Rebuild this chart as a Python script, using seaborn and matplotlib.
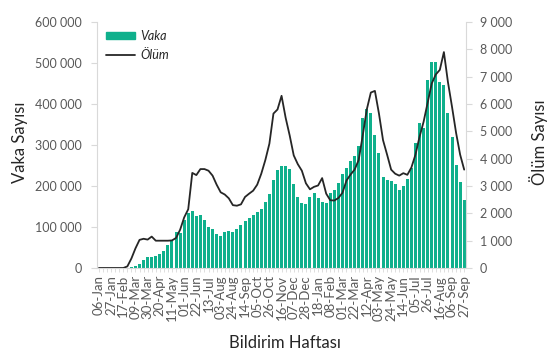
import matplotlib
matplotlib.use("Agg")
import matplotlib.pyplot as plt
import seaborn as sns
import pandas as pd
import numpy as np
from matplotlib.patches import Patch
from matplotlib.lines import Line2D
from matplotlib.ticker import FuncFormatter

sns.set_style("white")
plt.rcParams['font.family'] = ['Lato', 'DejaVu Sans']

# weekly categories, 06-Jan-2020 .. 27-Sep-2021
weeks = pd.date_range("2020-01-06", "2021-09-27", freq="7D").strftime("%d-%b").tolist()

# weekly cases (Vaka)
vaka = [0, 0, 0, 0, 0, 0, 0, 300, 1500, 5000,
        9800, 19500, 26000, 26000, 29000, 34000, 41000, 55000, 68000, 88000,
        86000, 117000, 135000, 138000, 127000, 129000, 117000, 101000, 95000, 84000,
        78000, 87000, 90000, 88000, 95000, 105000, 114000, 123000, 129000, 137000,
        145000, 161000, 180000, 215000, 238000, 250000, 248000, 241000, 204000, 174000,
        158000, 156000, 173000, 182000, 171000, 162000, 158000, 182000, 190000, 207000,
        230000, 245000, 261000, 272000, 298000, 366000, 388000, 378000, 325000, 280000,
        222000, 215000, 213000, 205000, 191000, 201000, 218000, 245000, 306000, 354000,
        341000, 458000, 502000, 502000, 453000, 447000, 378000, 319000, 251000, 209000,
        166000]

# weekly deaths (Ölüm)
olum = [0, 0, 0, 0, 0, 0, 0, 60, 350, 720,
        1030, 1070, 1040, 1150, 1000, 1000, 1000, 1000, 1010, 1100,
        1400, 1850, 2150, 3480, 3400, 3620, 3620, 3560, 3380, 3050,
        2770, 2690, 2550, 2300, 2280, 2330, 2600, 2720, 2830, 3050,
        3450, 3950, 4550, 5650, 5800, 6300, 5500, 4850, 4120, 3800,
        3560, 3100, 2880, 2970, 3020, 3290, 2720, 2480, 2470, 2560,
        2750, 3200, 3420, 3600, 3950, 4850, 5800, 6420, 6480, 5650,
        4680, 4150, 3600, 3450, 3380, 3470, 3410, 3680, 4150, 4800,
        5350, 6050, 6750, 7080, 7250, 7900, 6800, 5900, 4950, 4150,
        3600]

bar_color = '#0fb08c'
line_color = '#262626'
grey = '#d9d9d9'
label_grey = '#595959'

df = pd.DataFrame({'Hafta': weeks, 'Vaka': vaka, 'Olum': olum})

fig = plt.figure(figsize=(5.57, 3.55), dpi=100)
ax = fig.add_axes([0.174, 0.245, 0.663, 0.693])

sns.barplot(data=df, x='Hafta', y='Vaka', color=bar_color, saturation=1,
            width=0.74, linewidth=0, ax=ax)

ax2 = ax.twinx()
sns.lineplot(x=np.arange(len(weeks)), y=df['Olum'], ax=ax2, color=line_color, lw=1.3)

ax.set_xlim(-0.5, len(weeks) - 0.5)
ax.set_ylim(0, 600000)
ax2.set_ylim(0, 9000)
ax.set_yticks(range(0, 600001, 100000))
ax2.set_yticks(range(0, 9001, 1000))

fmt = FuncFormatter(lambda v, p: f"{int(v):,}".replace(",", " "))
ax.yaxis.set_major_formatter(fmt)
ax2.yaxis.set_major_formatter(fmt)

ax.set_xticks(range(0, len(weeks), 3))
ax.set_xticklabels(weeks[::3], rotation=90)
ax.set_xticks(range(len(weeks)), minor=True)

ax.set_xlabel('')
ax.set_ylabel('')
ax2.set_ylabel('')

for a in (ax, ax2):
    for s in a.spines.values():
        s.set_color(grey)
        s.set_linewidth(0.8)
    a.spines['top'].set_visible(False)
ax2.spines['left'].set_visible(False)
ax2.spines['bottom'].set_visible(False)
ax.spines['right'].set_visible(False)

ax.tick_params(axis='y', left=True, length=4, width=0.8, color=grey,
               labelcolor=label_grey, labelsize=9, pad=7)
ax2.tick_params(axis='y', right=True, length=4, width=0.8, color=grey,
                labelcolor=label_grey, labelsize=9, pad=6)
ax.tick_params(axis='x', which='both', bottom=True, length=3, width=0.6, color=grey,
               labelcolor=label_grey, labelsize=9.5, pad=2)

fig.text(0.036, 0.6, 'Vaka Sayısı', rotation=90, ha='center', va='center', fontsize=12)
fig.text(0.966, 0.6, 'Ölüm Sayısı', rotation=90, ha='center', va='center', fontsize=12)
fig.text(0.512, 0.034, 'Bildirim Haftası', ha='center', va='center', fontsize=12)

handles = [Patch(color=bar_color), Line2D([], [], color=line_color, lw=1.3)]
ax2.legend(handles, ['Vaka', 'Ölüm'], loc='upper left', bbox_to_anchor=(0.005, 1.0),
           frameon=False, prop={'style': 'italic', 'size': 9}, handlelength=2.3,
           handleheight=0.5, handletextpad=0.4, labelspacing=0.6, borderaxespad=0.2)

fig.savefig('out.png', dpi=100)
